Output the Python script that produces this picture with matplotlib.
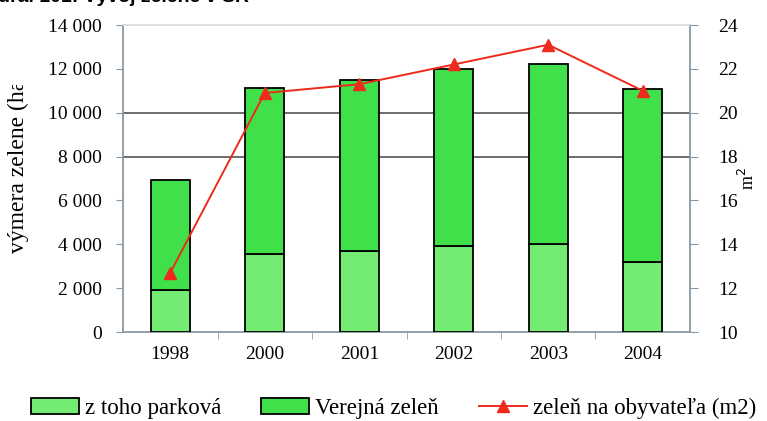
import matplotlib.pyplot as plt
from matplotlib.lines import Line2D
from matplotlib.patches import Patch
from matplotlib.transforms import Bbox

# data
years = ["1998", "2000", "2001", "2002", "2003", "2004"]
parkova = [1900, 3550, 3700, 3900, 4000, 3200]
verejna = [5050, 7600, 7800, 8100, 8200, 7900]
na_obyv = [12.7, 20.9, 21.3, 22.2, 23.1, 21.0]
left_ticks = [0, 2000, 4000, 6000, 8000, 10000, 12000, 14000]
left_labels = ["0", "2 000", "4 000", "6 000", "8 000", "10 000", "12 000", "14 000"]
right_ticks = [10, 12, 14, 16, 18, 20, 22, 24]

plt.rcParams['font.family'] = ['Liberation Serif', 'DejaVu Serif']

fig = plt.figure(figsize=(7.67, 4.21), dpi=100)
ax = fig.add_axes([0.1604, 0.2114, 0.7392, 0.7292])

x = list(range(len(years)))
ax.bar(x, parkova, width=0.41, color="#74ec74", edgecolor="black", linewidth=1.3, zorder=3)
ax.bar(x, verejna, width=0.41, bottom=parkova, color="#40e04a", edgecolor="black", linewidth=1.3, zorder=3)

# the two horizontal lines that Excel left in
for v in (8000, 10000):
    ax.axhline(v, color="#555555", linewidth=1.2, zorder=1)

ax.set_xlim(-0.5, len(years) - 0.5)
ax.set_ylim(0, 14000)
ax.set_yticks(left_ticks)
ax.set_yticklabels(left_labels, fontsize=14)
ax.set_xticks(x)
ax.set_xticklabels(years, fontsize=14)
ax.tick_params(axis="x", length=0, pad=10)
ax.set_xticks([i + 0.5 for i in x[:-1]], minor=True)
ax.tick_params(axis="x", which="minor", length=5, color="#8a98a2", direction="out")
ax.tick_params(axis="y", length=5, color="#8a98a2", pad=10)

for s in ("left", "bottom", "right"):
    ax.spines[s].set_color("#8a98a2")
    ax.spines[s].set_linewidth(1.3)
ax.spines["top"].set_color("#d8dde0")
ax.spines["top"].set_linewidth(1.3)

ax2 = ax.twinx()
ax2.plot(x, na_obyv, color="#ee2a1c", linewidth=1.4, marker="^", markersize=9, zorder=4)
ax2.set_ylim(10, 24)
ax2.set_yticks(right_ticks)
ax2.set_yticklabels([str(t) for t in right_ticks], fontsize=14)
ax2.tick_params(axis="y", length=6, color="#8a98a2", pad=14)
for s in ax2.spines.values():
    s.set_visible(False)
ax2.set_ylabel("m$^2$", fontsize=13, rotation=90, labelpad=0)

# y-label cut off at the top, as in the reference
yl = fig.text(0.024, (421 - 253) / 421, "výmera zelene (ha)", rotation=90, fontsize=17,
              ha="center", va="bottom")
yl.set_clip_box(Bbox.from_extents(0, 0, 767, 421 - 85))
yl.set_clip_on(True)

# title, mostly off the top of the image
fig.text(-0.002, 0.986, "ural 101: Vývoj zelene v SR", fontsize=14, fontweight="bold",
         family="Liberation Sans", ha="left", va="bottom")

handles = [
    Patch(facecolor="#74ec74", edgecolor="black", linewidth=1.3),
    Patch(facecolor="#40e04a", edgecolor="black", linewidth=1.3),
    Line2D([], [], color="#ee2a1c", linewidth=1.4, marker="^", markersize=9),
]
labels = ["z toho parková", "Verejná zeleň", "zeleň na obyvateľa (m2)"]
fig.legend(handles, labels, loc="center", bbox_to_anchor=(0.513, 0.03), ncol=3,
           frameon=False, fontsize=16.5, handlelength=2.1, handleheight=0.65,
           columnspacing=1.75, handletextpad=0.26)

fig.savefig("out.png", dpi=100)
